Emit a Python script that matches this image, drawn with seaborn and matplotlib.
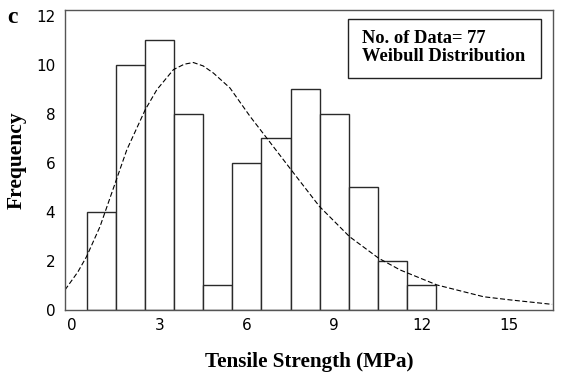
import numpy as np
import pandas as pd
import matplotlib
matplotlib.use("Agg")
import matplotlib.pyplot as plt
from matplotlib.patches import Rectangle
import seaborn as sns

# Histogram data (bin centers and counts)
bin_centers = [1, 2, 3, 4, 5, 6, 7, 8, 9, 10, 11, 12]
counts = [4, 10, 11, 8, 1, 6, 7, 9, 8, 5, 2, 1]

# Fitted Weibull curve
curve_x = [-0.24, 0.2, 0.5, 0.96, 1.48, 1.88, 2.51, 2.91, 3.48, 3.85, 4.16, 4.5, 4.85,
           5.42, 6.11, 6.68, 7.52, 8.49, 9.52, 10.52, 11.26, 12.52, 14.12, 15.04, 16.47]
curve_y = [0.82, 1.55, 2.18, 3.40, 5.17, 6.53, 8.16, 8.98, 9.80, 10.02, 10.09, 9.95, 9.66,
           9.05, 7.89, 7.01, 5.71, 4.22, 2.99, 2.11, 1.63, 1.02, 0.54, 0.41, 0.23]

x_ticks = [0, 3, 6, 9, 12, 15]
y_ticks = [0, 2, 4, 6, 8, 10, 12]

df = pd.DataFrame({"strength": bin_centers, "count": counts})
curve = pd.DataFrame({"x": curve_x, "y": curve_y})

sns.set_theme(style="white")
plt.rcParams["font.family"] = ["DejaVu Sans"]
plt.rcParams["text.color"] = "black"
plt.rcParams["axes.labelcolor"] = "black"

fig = plt.figure(figsize=(5.61, 3.72), dpi=100)
ax = fig.add_axes([0.1159, 0.1667, 0.8698, 0.8064])

edges = [c - 0.5 for c in bin_centers] + [bin_centers[-1] + 0.5]
sns.histplot(data=df, x="strength", weights="count", bins=edges, ax=ax,
             color="white", edgecolor="#2a2a2a", linewidth=1.0, alpha=1.0)
sns.lineplot(data=curve, x="x", y="y", ax=ax, color="black", linestyle=(0, (4.5, 2.2)),
             linewidth=0.8)

ax.set_xlim(-0.24, 16.5)
ax.set_ylim(0, 12.23)
ax.set_xticks(x_ticks)
ax.set_yticks(y_ticks)
ax.tick_params(axis="both", direction="in", length=4, width=0.8, colors="#333333",
               labelsize=11, labelcolor="black", pad=7)
ax.tick_params(axis="x", pad=6)
for s in ax.spines.values():
    s.set_color("#555555")
    s.set_linewidth(1.0)

serif = ["Liberation Serif", "DejaVu Serif"]
ax.set_xlabel("Tensile Strength (MPa)", fontsize=15.2, fontweight="bold", family=serif, labelpad=13.5)
ax.set_ylabel("Frequency", fontsize=15.5, fontweight="bold", family=serif, labelpad=7)

fig.patches.append(Rectangle((0.6203, 0.7903), 0.344, 0.1586, transform=fig.transFigure,
                             facecolor="white", edgecolor="#222222", linewidth=1.0, zorder=5))
fig.text(0.6453, 0.8723, "No. of Data= 77\nWeibull Distribution",
         fontsize=13.3, fontweight="bold", family=serif, va="center", ha="left",
         linespacing=1.05, zorder=6)

fig.text(0.023, 0.952, "c", fontsize=17, fontweight="bold", family=serif, va="center", ha="center")

fig.savefig("out.png", dpi=100)
